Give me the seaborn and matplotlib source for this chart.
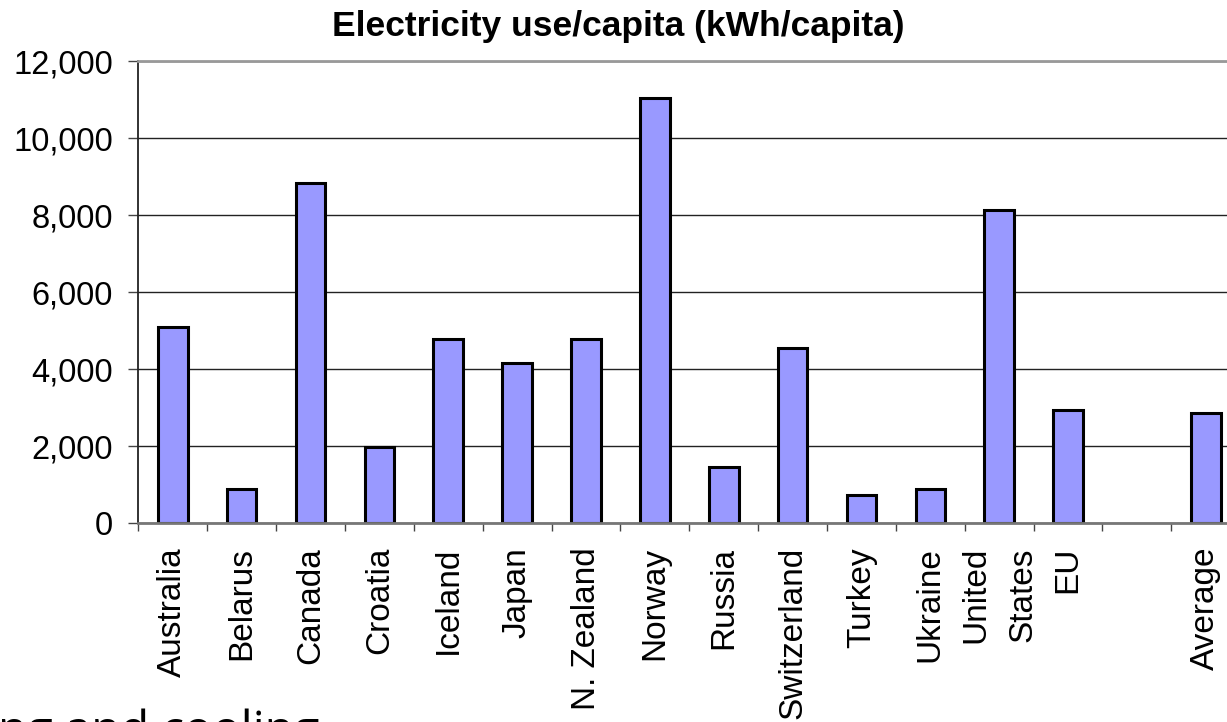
import matplotlib
matplotlib.use("Agg")
import matplotlib.pyplot as plt
import matplotlib.ticker as mticker
import seaborn as sns
import pandas as pd
import numpy as np

# ---- data ----
categories = ["Australia", "Belarus", "Canada", "Croatia", "Iceland", "Japan",
              "N. Zealand", "Norway", "Russia", "Switzerland", "Turkey", "Ukraine",
              "United\nStates", "EU", " ", "Average"]
values = [5100, 890, 8830, 1990, 4780, 4150,
          4780, 11040, 1455, 4550, 730, 895,
          8130, 2950, np.nan, 2875]
y_ticks = [0, 2000, 4000, 6000, 8000, 10000, 12000]
title = "Electricity use/capita (kWh/capita)"
footer = "ng and cooling"

df = pd.DataFrame({"country": categories, "kwh": values})

sns.set_style("white")
plt.rcParams["font.family"] = ["Liberation Sans", "DejaVu Sans"]
plt.rcParams["text.color"] = "black"
plt.rcParams["xtick.color"] = "black"
plt.rcParams["ytick.color"] = "black"
plt.rcParams["xtick.labelcolor"] = "black"
plt.rcParams["ytick.labelcolor"] = "black"

W, H = 1227, 722
fig = plt.figure(figsize=(W / 100, H / 100), dpi=100)
ax = fig.add_axes([138.4 / W, 198.7 / H, 1101.8 / W, 462.3 / H])

sns.barplot(data=df, x="country", y="kwh", order=categories, ax=ax,
            color="#9999FF", saturation=1, edgecolor="black", linewidth=2.2,
            width=0.43, errorbar=None)

ax.set_xlim(-0.5, len(categories) - 0.5)
ax.set_ylim(0, 12000)
ax.set_yticks(y_ticks)
ax.yaxis.set_major_formatter(mticker.StrMethodFormatter("{x:,.0f}"))
ax.set_xlabel("")
ax.set_ylabel("")

# gridlines
ax.set_axisbelow(True)
ax.yaxis.grid(True, color="#222222", linewidth=1.0)
ax.xaxis.grid(False)

# category labels
ax.set_xticks(range(len(categories)))
ax.set_xticklabels(categories, rotation=90, fontsize=24, linespacing=1.65)
ax.tick_params(axis="x", which="major", length=0, pad=17)
ax.set_xticks(np.arange(-0.5, len(categories), 1.0), minor=True)
ax.tick_params(axis="x", which="minor", length=6, width=1, color="#444444",
               direction="out", bottom=True)
ax.tick_params(axis="y", which="major", length=7.2, width=1, color="#444444",
               direction="out", left=True, labelsize=23.5, pad=11)

for lab in ax.get_xticklabels():
    lab.set_verticalalignment("top")
    lab.set_horizontalalignment("center")

# spines
ax.spines["right"].set_visible(False)
ax.spines["top"].set_color("#999999")
ax.spines["top"].set_linewidth(2)
ax.spines["bottom"].set_color("#777777")
ax.spines["bottom"].set_linewidth(2)
ax.spines["left"].set_color("#222222")
ax.spines["left"].set_linewidth(1.3)

fig.text(618 / W, 1 - 36 / H, title, ha="center", va="baseline",
         fontsize=25.5, fontweight="bold", color="black")

fig.text(-2 / W, (H - 745) / H, footer, ha="left", va="baseline",
         fontsize=34, color="black", family=["Open Sans", "DejaVu Sans"])

fig.savefig("out.png", dpi=100)
